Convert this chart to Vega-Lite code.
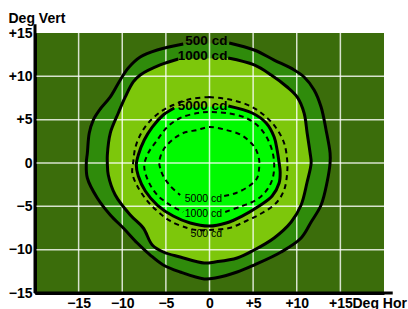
{
  "$schema": "https://vega.github.io/schema/vega-lite/v6.json",
  "width": 349,
  "height": 260,
  "autosize": {"type": "none"},
  "padding": {"left": 35, "top": 33, "right": 24, "bottom": 16},
  "background": "white",
  "config": {
    "view": {"fill": "#3b6d0b", "stroke": null},
    "font": "Liberation Sans"
  },
  "datasets": {
    "contours": [
      {"c":"s500","i":0,"x":2.26,"y":13.85},{"c":"s500","i":1,"x":5.12,"y":13.04},{"c":"s500","i":2,"x":7.41,"y":11.88},{"c":"s500","i":3,"x":9.70,"y":10.73},{"c":"s500","i":4,"x":10.84,"y":9.92},{"c":"s500","i":5,"x":11.99,"y":8.42},{"c":"s500","i":6,"x":12.79,"y":6.46},{"c":"s500","i":7,"x":13.36,"y":3.81},{"c":"s500","i":8,"x":13.82,"y":1.15},{"c":"s500","i":9,"x":13.82,"y":0},{"c":"s500","i":10,"x":13.48,"y":-2.19},{"c":"s500","i":11,"x":12.79,"y":-4.85},{"c":"s500","i":12,"x":11.65,"y":-6.81},{"c":"s500","i":13,"x":10.50,"y":-8.65},{"c":"s500","i":14,"x":8.21,"y":-10.27},{"c":"s500","i":15,"x":5.12,"y":-11.77},{"c":"s500","i":16,"x":3.17,"y":-12.58},{"c":"s500","i":17,"x":0.65,"y":-13.27},{"c":"s500","i":18,"x":-0.61,"y":-13.38},{"c":"s500","i":19,"x":-3.36,"y":-12.58},{"c":"s500","i":20,"x":-5.30,"y":-11.77},{"c":"s500","i":21,"x":-6.79,"y":-10.62},{"c":"s500","i":22,"x":-8.28,"y":-9.23},{"c":"s500","i":23,"x":-9.88,"y":-7.50},{"c":"s500","i":24,"x":-11.37,"y":-6.00},{"c":"s500","i":25,"x":-12.86,"y":-4.04},{"c":"s500","i":26,"x":-14.00,"y":-1.73},{"c":"s500","i":27,"x":-14.12,"y":0},{"c":"s500","i":28,"x":-14.00,"y":1.15},{"c":"s500","i":29,"x":-13.78,"y":3.46},{"c":"s500","i":30,"x":-13.32,"y":4.96},{"c":"s500","i":31,"x":-12.52,"y":6.23},{"c":"s500","i":32,"x":-11.37,"y":7.62},{"c":"s500","i":33,"x":-10.23,"y":9.58},{"c":"s500","i":34,"x":-9.31,"y":10.96},{"c":"s500","i":35,"x":-7.94,"y":12.23},{"c":"s500","i":36,"x":-5.99,"y":13.04},{"c":"s500","i":37,"x":-3.01,"y":13.73},
      {"c":"s1000","i":0,"x":2.14,"y":12.11},{"c":"s1000","i":1,"x":5.12,"y":11.31},{"c":"s1000","i":2,"x":7.07,"y":10.15},{"c":"s1000","i":3,"x":8.90,"y":8.77},{"c":"s1000","i":4,"x":10.04,"y":7.62},{"c":"s1000","i":5,"x":10.84,"y":5.77},{"c":"s1000","i":6,"x":11.19,"y":3.46},{"c":"s1000","i":7,"x":11.53,"y":1.15},{"c":"s1000","i":8,"x":11.65,"y":0},{"c":"s1000","i":9,"x":11.19,"y":-2.19},{"c":"s1000","i":10,"x":10.50,"y":-4.85},{"c":"s1000","i":11,"x":9.36,"y":-6.81},{"c":"s1000","i":12,"x":7.41,"y":-8.65},{"c":"s1000","i":13,"x":5.12,"y":-10.04},{"c":"s1000","i":14,"x":3.17,"y":-10.96},{"c":"s1000","i":15,"x":0.65,"y":-11.42},{"c":"s1000","i":16,"x":-0.61,"y":-11.54},{"c":"s1000","i":17,"x":-3.36,"y":-10.85},{"c":"s1000","i":18,"x":-5.30,"y":-10.27},{"c":"s1000","i":19,"x":-6.56,"y":-9.46},{"c":"s1000","i":20,"x":-7.59,"y":-7.50},{"c":"s1000","i":21,"x":-9.08,"y":-6.00},{"c":"s1000","i":22,"x":-10.80,"y":-3.69},{"c":"s1000","i":23,"x":-11.60,"y":-1.38},{"c":"s1000","i":24,"x":-11.71,"y":0},{"c":"s1000","i":25,"x":-11.71,"y":0.92},{"c":"s1000","i":26,"x":-11.37,"y":3.46},{"c":"s1000","i":27,"x":-10.45,"y":5.77},{"c":"s1000","i":28,"x":-9.65,"y":7.62},{"c":"s1000","i":29,"x":-8.74,"y":9.35},{"c":"s1000","i":30,"x":-7.94,"y":10.15},{"c":"s1000","i":31,"x":-5.65,"y":11.31},{"c":"s1000","i":32,"x":-3.58,"y":12.00},
      {"c":"s5000","i":0,"x":2.16,"y":6.58},{"c":"s5000","i":1,"x":4.89,"y":5.77},{"c":"s5000","i":2,"x":6.49,"y":4.62},{"c":"s5000","i":3,"x":7.41,"y":3.00},{"c":"s5000","i":4,"x":7.75,"y":1.50},{"c":"s5000","i":5,"x":7.98,"y":0},{"c":"s5000","i":6,"x":8.10,"y":-1.04},{"c":"s5000","i":7,"x":7.98,"y":-2.31},{"c":"s5000","i":8,"x":7.18,"y":-3.81},{"c":"s5000","i":9,"x":5.69,"y":-4.96},{"c":"s5000","i":10,"x":3.74,"y":-6.12},{"c":"s5000","i":11,"x":1.91,"y":-6.92},{"c":"s5000","i":12,"x":-0.03,"y":-7.27},{"c":"s5000","i":13,"x":-2.21,"y":-6.92},{"c":"s5000","i":14,"x":-4.16,"y":-6.12},{"c":"s5000","i":15,"x":-5.99,"y":-4.85},{"c":"s5000","i":16,"x":-7.36,"y":-3.23},{"c":"s5000","i":17,"x":-8.16,"y":-1.50},{"c":"s5000","i":18,"x":-8.39,"y":-0.23},{"c":"s5000","i":19,"x":-8.16,"y":0.92},{"c":"s5000","i":20,"x":-7.48,"y":2.65},{"c":"s5000","i":21,"x":-6.56,"y":4.15},{"c":"s5000","i":22,"x":-5.30,"y":5.54},{"c":"s5000","i":23,"x":-4.04,"y":6.35},
      {"c":"d500","i":0,"x":-0.03,"y":7.62},{"c":"d500","i":1,"x":2.60,"y":7.27},{"c":"d500","i":2,"x":4.89,"y":6.46},{"c":"d500","i":3,"x":6.49,"y":5.31},{"c":"d500","i":4,"x":7.64,"y":4.04},{"c":"d500","i":5,"x":8.55,"y":2.31},{"c":"d500","i":6,"x":8.90,"y":0.35},{"c":"d500","i":7,"x":8.90,"y":-1.15},{"c":"d500","i":8,"x":8.55,"y":-3.12},{"c":"d500","i":9,"x":7.64,"y":-4.62},{"c":"d500","i":10,"x":6.03,"y":-5.77},{"c":"d500","i":11,"x":4.20,"y":-6.69},{"c":"d500","i":12,"x":2.26,"y":-7.50},{"c":"d500","i":13,"x":-0.03,"y":-7.73},{"c":"d500","i":14,"x":-1.41,"y":-7.73},{"c":"d500","i":15,"x":-2.55,"y":-7.50},{"c":"d500","i":16,"x":-4.50,"y":-6.69},{"c":"d500","i":17,"x":-5.99,"y":-5.54},{"c":"d500","i":18,"x":-7.13,"y":-4.38},{"c":"d500","i":19,"x":-8.28,"y":-2.65},{"c":"d500","i":20,"x":-8.85,"y":-1.15},{"c":"d500","i":21,"x":-8.74,"y":0.12},{"c":"d500","i":22,"x":-8.51,"y":1.73},{"c":"d500","i":23,"x":-7.94,"y":3.23},{"c":"d500","i":24,"x":-7.02,"y":4.62},{"c":"d500","i":25,"x":-5.65,"y":5.88},{"c":"d500","i":26,"x":-4.16,"y":6.69},{"c":"d500","i":27,"x":-2.21,"y":7.38},{"c":"d500","i":28,"x":-0.03,"y":7.62},
      {"c":"d1000","i":0,"x":1.80,"y":-5.65},{"c":"d1000","i":1,"x":3.74,"y":-4.96},{"c":"d1000","i":2,"x":5.35,"y":-4.27},{"c":"d1000","i":3,"x":6.49,"y":-3.23},{"c":"d1000","i":4,"x":7.18,"y":-1.96},{"c":"d1000","i":5,"x":7.41,"y":-0.58},{"c":"d1000","i":6,"x":7.30,"y":0.92},{"c":"d1000","i":7,"x":6.72,"y":2.65},{"c":"d1000","i":8,"x":5.69,"y":4.15},{"c":"d1000","i":9,"x":4.20,"y":5.19},{"c":"d1000","i":10,"x":1.91,"y":5.77},{"c":"d1000","i":11,"x":-0.03,"y":5.88},{"c":"d1000","i":12,"x":-1.31,"y":5.77},{"c":"d1000","i":13,"x":-3.36,"y":5.19},{"c":"d1000","i":14,"x":-4.84,"y":4.15},{"c":"d1000","i":15,"x":-5.99,"y":2.65},{"c":"d1000","i":16,"x":-7.02,"y":1.15},{"c":"d1000","i":17,"x":-7.48,"y":-0.35},{"c":"d1000","i":18,"x":-7.02,"y":-2.08},{"c":"d1000","i":19,"x":-5.99,"y":-3.69},{"c":"d1000","i":20,"x":-4.50,"y":-4.85},{"c":"d1000","i":21,"x":-3.01,"y":-5.65},
      {"c":"d5000","i":0,"x":1.68,"y":-3.81},{"c":"d5000","i":1,"x":3.06,"y":-3.46},{"c":"d5000","i":2,"x":4.55,"y":-2.65},{"c":"d5000","i":3,"x":5.46,"y":-1.73},{"c":"d5000","i":4,"x":5.69,"y":-0.58},{"c":"d5000","i":5,"x":5.69,"y":0.35},{"c":"d5000","i":6,"x":5.35,"y":1.50},{"c":"d5000","i":7,"x":4.77,"y":2.31},{"c":"d5000","i":8,"x":3.63,"y":3.23},{"c":"d5000","i":9,"x":1.91,"y":3.81},{"c":"d5000","i":10,"x":-0.03,"y":4.15},{"c":"d5000","i":11,"x":-1.41,"y":3.81},{"c":"d5000","i":12,"x":-3.01,"y":3.46},{"c":"d5000","i":13,"x":-4.27,"y":2.65},{"c":"d5000","i":14,"x":-5.30,"y":1.50},{"c":"d5000","i":15,"x":-5.76,"y":0.12},{"c":"d5000","i":16,"x":-5.65,"y":-0.58},{"c":"d5000","i":17,"x":-5.30,"y":-1.50},{"c":"d5000","i":18,"x":-4.50,"y":-2.65},{"c":"d5000","i":19,"x":-3.36,"y":-3.69}
    ],
    "labels": [
      {"t":"500 cd","x":2.05,"y":13.61,"k":"big"},
      {"t":"1000 cd","x":2.05,"y":11.88,"k":"big"},
      {"t":"5000 cd","x":2.05,"y":6.12,"k":"big"},
      {"t":"5000 cd","x":1.45,"y":-4.50,"k":"small"},
      {"t":"1000 cd","x":1.45,"y":-6.23,"k":"small"},
      {"t":"500 cd","x":1.45,"y":-8.54,"k":"small"}
    ]
  },
  "encoding": {
    "x": {
      "field": "x", "type": "quantitative",
      "scale": {"domain": [-20, 20], "nice": false, "zero": false},
      "axis": {
        "values": [-15, -10, -5, 0, 5, 10, 15],
        "labelExpr": "datum.value > 0 ? '+' + datum.value : (datum.value < 0 ? '−' + abs(datum.value) : '0')",
        "grid": false, "ticks": false,
        "domainColor": "black", "domainWidth": 3,
        "labelFont": "Liberation Sans", "labelFontWeight": "bold", "labelFontSize": 14, "labelColor": "black",
        "labelPadding": 3,
        "encode": {"labels": {"update": {"dx": {"signal": "datum.value == 0 ? 1 : -5"}}}},
        "title": "Deg Hor", "titleFont": "Liberation Sans", "titleFontWeight": "bold", "titleFontSize": 14, "titleColor": "black",
        "titleAlign": "left", "titleAnchor": null, "titleBaseline": "alphabetic", "titleX": 317, "titleY": 14
      }
    },
    "y": {
      "field": "y", "type": "quantitative",
      "scale": {"domain": [-15, 15], "nice": false, "zero": false},
      "axis": {
        "values": [-15, -10, -5, 0, 5, 10, 15],
        "labelExpr": "datum.value > 0 ? '+' + datum.value : (datum.value < 0 ? '−' + abs(datum.value) : '0')",
        "grid": false, "ticks": false,
        "domainColor": "black", "domainWidth": 3,
        "labelFont": "Liberation Sans", "labelFontWeight": "bold", "labelFontSize": 14, "labelColor": "black",
        "labelPadding": 3,
        "title": "Deg Vert", "titleFont": "Liberation Sans", "titleFontWeight": "bold", "titleFontSize": 14, "titleColor": "black",
        "titleAngle": 0, "titleAlign": "left", "titleAnchor": null, "titleBaseline": "alphabetic", "titleX": -27, "titleY": -11
      }
    }
  },
  "layer": [
    {
      "data": {"name": "contours"},
      "transform": [{"filter": "datum.c == 's500'"}],
      "mark": {"type": "line", "fill": "#2f8b0b", "stroke": null, "strokeWidth": 0, "interpolate": "catmull-rom"},
      "encoding": {"order": {"field": "i", "type": "quantitative"}}
    },
    {
      "data": {"name": "contours"},
      "transform": [{"filter": "datum.c == 's1000'"}],
      "mark": {"type": "line", "fill": "#7dc70b", "stroke": null, "strokeWidth": 0, "interpolate": "catmull-rom"},
      "encoding": {"order": {"field": "i", "type": "quantitative"}}
    },
    {
      "data": {"name": "contours"},
      "transform": [{"filter": "datum.c == 's5000'"}],
      "mark": {"type": "line", "fill": "#00fa00", "stroke": null, "strokeWidth": 0, "interpolate": "catmull-rom"},
      "encoding": {"order": {"field": "i", "type": "quantitative"}}
    },
    {
      "data": {"values": [{"x": -15}, {"x": -10}, {"x": -5}, {"x": 0}, {"x": 5}, {"x": 10}, {"x": 15}]},
      "mark": {"type": "rule", "color": "white", "strokeWidth": 1.5, "opacity": 0.8},
      "encoding": {"y": null}
    },
    {
      "data": {"values": [{"y": -10}, {"y": -5}, {"y": 0}, {"y": 5}, {"y": 10}]},
      "mark": {"type": "rule", "color": "white", "strokeWidth": 1.5, "opacity": 0.8},
      "encoding": {"x": null}
    },
    {
      "data": {"name": "contours"},
      "transform": [{"filter": "datum.c[0] == 's'"}],
      "mark": {"type": "line", "color": "black", "strokeWidth": 3, "interpolate": "catmull-rom"},
      "encoding": {"detail": {"field": "c"}, "order": {"field": "i", "type": "quantitative"}}
    },
    {
      "data": {"name": "contours"},
      "transform": [{"filter": "datum.c[0] == 'd'"}],
      "mark": {"type": "line", "color": "black", "strokeWidth": 2, "strokeDash": [5, 4], "interpolate": "catmull-rom"},
      "encoding": {"detail": {"field": "c"}, "order": {"field": "i", "type": "quantitative"}}
    },
    {
      "data": {"values": [{"x": -20, "y": -15, "x2": 21, "y2": -15}, {"x": -20, "y": -15, "x2": -20, "y2": 16}]},
      "mark": {"type": "rule", "color": "black", "strokeWidth": 3, "clip": false},
      "encoding": {"x2": {"field": "x2"}, "y2": {"field": "y2"}}
    },
    {
      "data": {"name": "labels"},
      "transform": [{"filter": "datum.k == 'big'"}],
      "mark": {"type": "text", "align": "right", "baseline": "alphabetic", "font": "Liberation Sans", "fontWeight": "bold", "fontSize": 13.5, "color": "black"},
      "encoding": {"text": {"field": "t"}}
    },
    {
      "data": {"name": "labels"},
      "transform": [{"filter": "datum.k == 'small'"}],
      "mark": {"type": "text", "align": "right", "baseline": "alphabetic", "font": "Liberation Sans", "fontSize": 10.5, "color": "black"},
      "encoding": {"text": {"field": "t"}}
    }
  ]
}
